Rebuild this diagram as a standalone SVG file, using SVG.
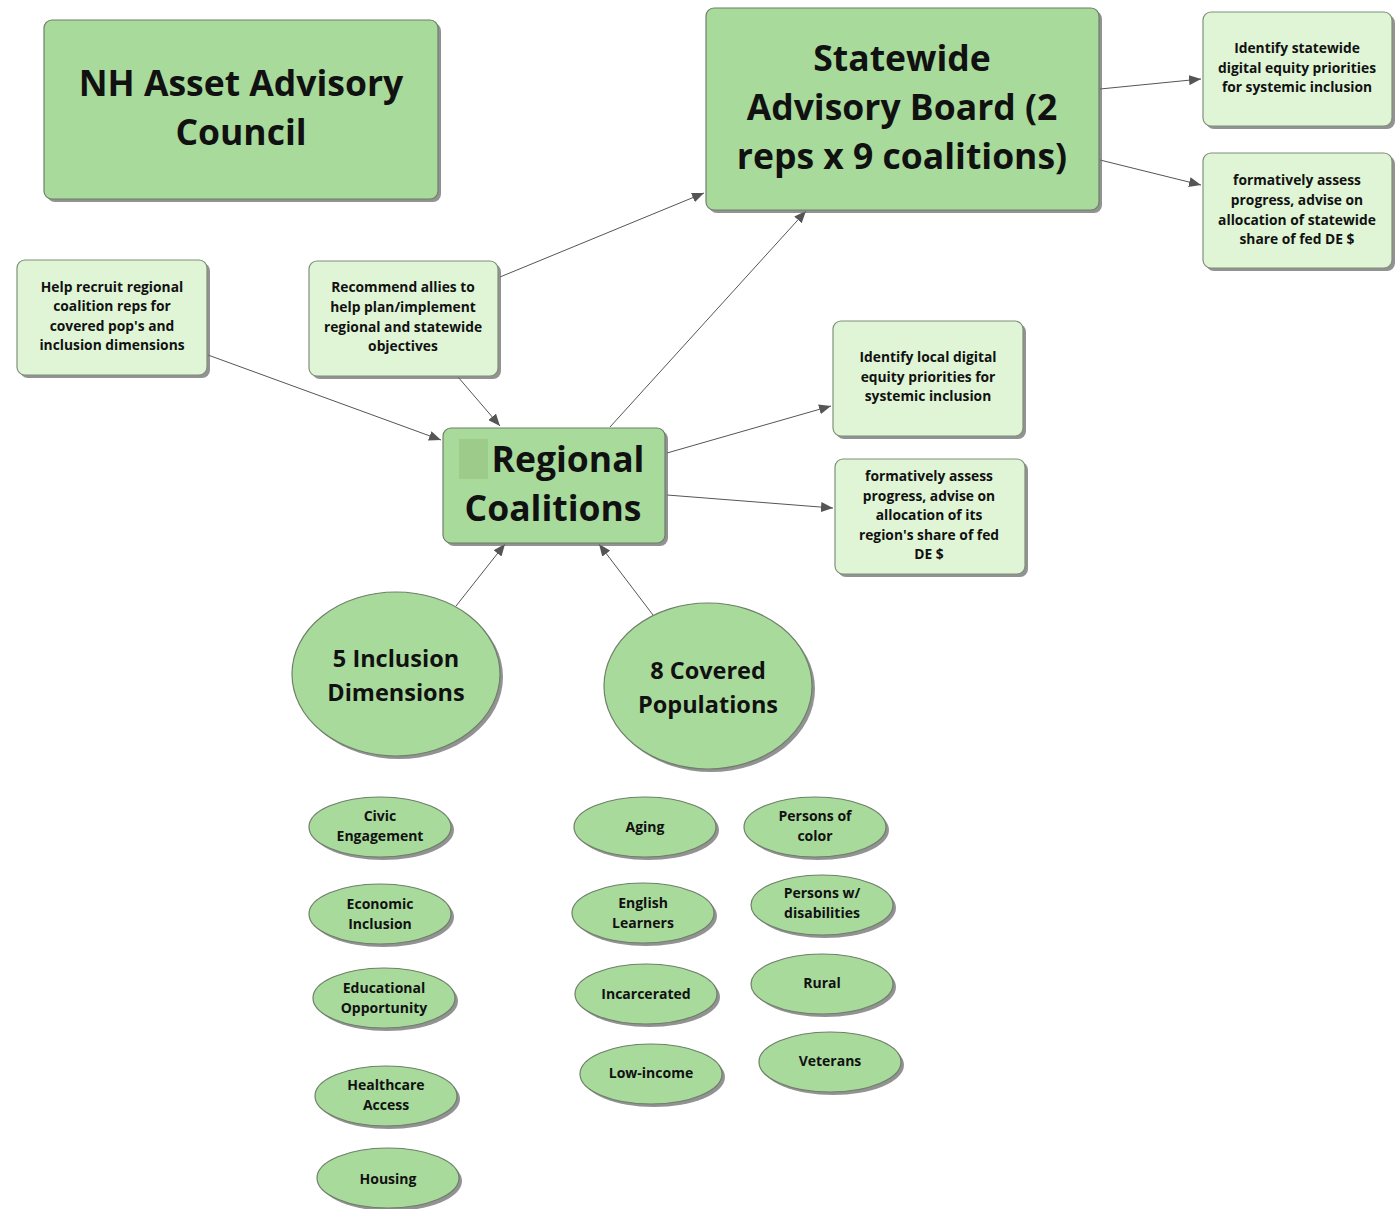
<svg xmlns="http://www.w3.org/2000/svg" width="1397" height="1209" viewBox="0 0 1397 1209">
<defs>
<marker id="arr" viewBox="0 0 12 10" refX="12" refY="5" markerWidth="12" markerHeight="10" markerUnits="userSpaceOnUse" orient="auto">
<path d="M0,0 L12,5 L0,10 z" fill="#555"/>
</marker>
</defs>
<style>
text{font-family:"Open Sans","Noto Sans","Liberation Sans",sans-serif;font-weight:bold;fill:#111;text-anchor:middle}
.dark{fill:#a8da9c;stroke:#6f7f6a;stroke-width:1.2}
.light{fill:#e0f5d6;stroke:#7f8f7a;stroke-width:1.2}
.sh{fill:#6e6e6e;opacity:0.75}
.big{font-size:35.5px}
.rc{font-size:35.5px}
.mid{font-size:23.5px}
.sm{font-size:13.8px}
.el{font-size:14px}
.conn line{stroke:#555;stroke-width:1;marker-end:url(#arr)}
</style>
<rect width="1397" height="1209" fill="#fff"/>

<g class="conn">
<line x1="208" y1="355" x2="441" y2="440"/>
<line x1="458" y1="377" x2="500" y2="426"/>
<line x1="500" y1="277" x2="704" y2="193"/>
<line x1="610" y1="427" x2="806" y2="211"/>
<line x1="1100" y1="89" x2="1201" y2="79"/>
<line x1="1100" y1="160" x2="1201" y2="185"/>
<line x1="667" y1="453" x2="831" y2="406"/>
<line x1="667" y1="495" x2="833" y2="508"/>
<line x1="456" y1="606" x2="505" y2="544"/>
<line x1="653" y1="615" x2="599" y2="544"/>
</g>

<g id="nh-council">
<rect class="sh" x="47" y="23" width="394" height="179" rx="8"/>
<rect class="dark" x="44" y="20" width="394" height="179" rx="8"/>
<text class="big" x="241" y="96">NH Asset Advisory</text>
<text class="big" x="241" y="145">Council</text>
</g>

<g id="statewide-board">
<rect class="sh" x="709" y="11" width="393" height="202" rx="8"/>
<rect class="dark" x="706" y="8" width="393" height="202" rx="8"/>
<text class="big" x="902" y="71">Statewide</text>
<text class="big" x="902" y="120">Advisory Board (2</text>
<text class="big" x="902" y="169">reps x 9 coalitions)</text>
</g>

<g id="identify-statewide">
<rect class="sh" x="1206" y="15" width="189" height="114" rx="8"/>
<rect class="light" x="1203" y="12" width="189" height="114" rx="8"/>
<text class="sm" x="1297" y="53">Identify statewide</text>
<text class="sm" x="1297" y="73">digital equity priorities</text>
<text class="sm" x="1297" y="92">for systemic inclusion</text>
</g>

<g id="assess-statewide">
<rect class="sh" x="1206" y="156" width="189" height="115" rx="8"/>
<rect class="light" x="1203" y="153" width="189" height="115" rx="8"/>
<text class="sm" x="1297" y="185">formatively assess</text>
<text class="sm" x="1297" y="205">progress, advise on</text>
<text class="sm" x="1297" y="225">allocation of statewide</text>
<text class="sm" x="1297" y="244">share of fed DE $</text>
</g>

<g id="help-recruit">
<rect class="sh" x="20" y="263" width="190" height="115" rx="8"/>
<rect class="light" x="17" y="260" width="190" height="115" rx="8"/>
<text class="sm" x="112" y="292">Help recruit regional</text>
<text class="sm" x="112" y="311">coalition reps for</text>
<text class="sm" x="112" y="331">covered pop's and</text>
<text class="sm" x="112" y="350">inclusion dimensions</text>
</g>

<g id="recommend-allies">
<rect class="sh" x="312" y="264" width="189" height="115" rx="8"/>
<rect class="light" x="309" y="261" width="189" height="115" rx="8"/>
<text class="sm" x="403" y="292">Recommend allies to</text>
<text class="sm" x="403" y="312">help plan/implement</text>
<text class="sm" x="403" y="332">regional and statewide</text>
<text class="sm" x="403" y="351">objectives</text>
</g>

<g id="regional-coalitions">
<rect class="sh" x="446" y="431" width="222" height="115" rx="8"/>
<rect class="dark" x="443" y="428" width="222" height="115" rx="8"/>
<rect x="459" y="439" width="29" height="40" fill="#9ccb8a"/>
<text class="rc" x="568" y="472">Regional</text>
<text class="rc" x="553" y="521">Coalitions</text>
</g>

<g id="identify-local">
<rect class="sh" x="836" y="324" width="190" height="115" rx="8"/>
<rect class="light" x="833" y="321" width="190" height="115" rx="8"/>
<text class="sm" x="928" y="362">Identify local digital</text>
<text class="sm" x="928" y="382">equity priorities for</text>
<text class="sm" x="928" y="401">systemic inclusion</text>
</g>

<g id="assess-regional">
<rect class="sh" x="838" y="462" width="190" height="115" rx="8"/>
<rect class="light" x="835" y="459" width="190" height="115" rx="8"/>
<text class="sm" x="929" y="481">formatively assess</text>
<text class="sm" x="929" y="501">progress, advise on</text>
<text class="sm" x="929" y="520">allocation of its</text>
<text class="sm" x="929" y="540">region's share of fed</text>
<text class="sm" x="929" y="559">DE $</text>
</g>

<g id="inclusion-dimensions">
<ellipse class="sh" cx="399" cy="677" rx="104" ry="82"/>
<ellipse class="dark" cx="396" cy="674" rx="104" ry="82"/>
<text class="mid" x="396" y="667">5 Inclusion</text>
<text class="mid" x="396" y="701">Dimensions</text>
</g>

<g id="covered-populations">
<ellipse class="sh" cx="711" cy="689" rx="104" ry="83"/>
<ellipse class="dark" cx="708" cy="686" rx="104" ry="83"/>
<text class="mid" x="708" y="679">8 Covered</text>
<text class="mid" x="708" y="713">Populations</text>
</g>

<g id="civic">
<ellipse class="sh" cx="383" cy="830" rx="71" ry="30"/>
<ellipse class="dark" cx="380" cy="827" rx="71" ry="30"/>
<text class="el" x="380" y="821">Civic</text>
<text class="el" x="380" y="841">Engagement</text>
</g>
<g id="economic">
<ellipse class="sh" cx="383" cy="917" rx="71" ry="30"/>
<ellipse class="dark" cx="380" cy="914" rx="71" ry="30"/>
<text class="el" x="380" y="909">Economic</text>
<text class="el" x="380" y="929">Inclusion</text>
</g>
<g id="educational">
<ellipse class="sh" cx="387" cy="1001" rx="71" ry="30"/>
<ellipse class="dark" cx="384" cy="998" rx="71" ry="30"/>
<text class="el" x="384" y="993">Educational</text>
<text class="el" x="384" y="1013">Opportunity</text>
</g>
<g id="healthcare">
<ellipse class="sh" cx="389" cy="1099" rx="71" ry="30"/>
<ellipse class="dark" cx="386" cy="1096" rx="71" ry="30"/>
<text class="el" x="386" y="1090">Healthcare</text>
<text class="el" x="386" y="1110">Access</text>
</g>
<g id="housing">
<ellipse class="sh" cx="391" cy="1181" rx="71" ry="30"/>
<ellipse class="dark" cx="388" cy="1178" rx="71" ry="30"/>
<text class="el" x="388" y="1184">Housing</text>
</g>

<g id="aging">
<ellipse class="sh" cx="648" cy="830" rx="71" ry="30"/>
<ellipse class="dark" cx="645" cy="827" rx="71" ry="30"/>
<text class="el" x="645" y="832">Aging</text>
</g>
<g id="english">
<ellipse class="sh" cx="646" cy="916" rx="71" ry="30"/>
<ellipse class="dark" cx="643" cy="913" rx="71" ry="30"/>
<text class="el" x="643" y="908">English</text>
<text class="el" x="643" y="928">Learners</text>
</g>
<g id="incarcerated">
<ellipse class="sh" cx="649" cy="997" rx="71" ry="30"/>
<ellipse class="dark" cx="646" cy="994" rx="71" ry="30"/>
<text class="el" x="646" y="999">Incarcerated</text>
</g>
<g id="low-income">
<ellipse class="sh" cx="654" cy="1077" rx="71" ry="30"/>
<ellipse class="dark" cx="651" cy="1074" rx="71" ry="30"/>
<text class="el" x="651" y="1078">Low-income</text>
</g>
<g id="persons-color">
<ellipse class="sh" cx="818" cy="830" rx="71" ry="30"/>
<ellipse class="dark" cx="815" cy="827" rx="71" ry="30"/>
<text class="el" x="815" y="821">Persons of</text>
<text class="el" x="815" y="841">color</text>
</g>
<g id="persons-disabilities">
<ellipse class="sh" cx="825" cy="908" rx="71" ry="30"/>
<ellipse class="dark" cx="822" cy="905" rx="71" ry="30"/>
<text class="el" x="822" y="898">Persons w/</text>
<text class="el" x="822" y="918">disabilities</text>
</g>
<g id="rural">
<ellipse class="sh" cx="825" cy="987" rx="71" ry="30"/>
<ellipse class="dark" cx="822" cy="984" rx="71" ry="30"/>
<text class="el" x="822" y="988">Rural</text>
</g>
<g id="veterans">
<ellipse class="sh" cx="833" cy="1065" rx="71" ry="30"/>
<ellipse class="dark" cx="830" cy="1062" rx="71" ry="30"/>
<text class="el" x="830" y="1066">Veterans</text>
</g>
</svg>
